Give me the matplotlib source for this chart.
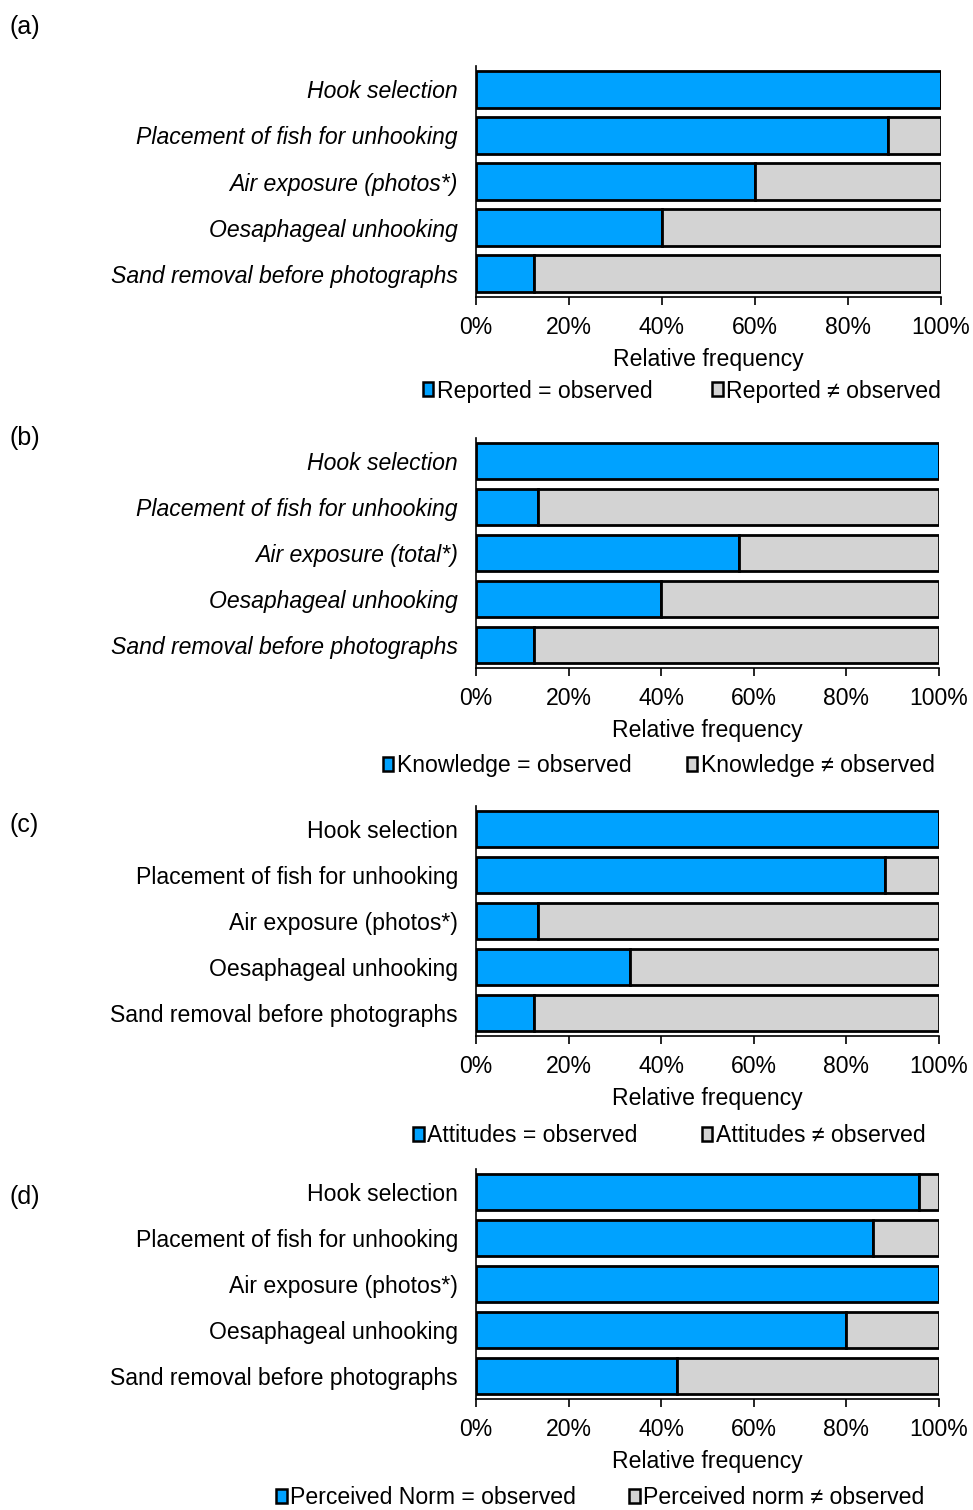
import matplotlib
matplotlib.use("Agg")
import matplotlib.pyplot as plt
from matplotlib.patches import Patch

plt.rcParams['font.family'] = ['Liberation Sans', 'DejaVu Sans']

# Practices, top to bottom
items_photos = ['Hook selection', 'Placement of fish for unhooking',
                'Air exposure (photos*)', 'Oesaphageal unhooking',
                'Sand removal before photographs']
items_total = ['Hook selection', 'Placement of fish for unhooking',
               'Air exposure (total*)', 'Oesaphageal unhooking',
               'Sand removal before photographs']

# Share (%) where the self-report matched what was observed
reported = [100, 88.7, 60, 40, 12.5]
knowledge = [100, 13.3, 56.8, 40, 12.5]
attitudes = [100, 88.3, 13.3, 33.3, 12.5]
norm = [95.7, 85.7, 100, 80, 43.5]

ticks = [0, 20, 40, 60, 80, 100]
tick_labels = ['0%', '20%', '40%', '60%', '80%', '100%']

BLUE = '#00A2FF'
GREY = '#D3D3D3'
FS = 16.6

# tag, labels, values, italic, legend text, axes rect, tag y, legend centre, column spacing
panels = [
    ('(a)', items_photos, reported, True,
     ['Reported = observed', 'Reported \u2260 observed'],
     [0.4892, 0.8033, 0.4779, 0.1530], 0.9820, (0.701, 0.741), 2.6),
    ('(b)', items_total, knowledge, True,
     ['Knowledge = observed', 'Knowledge \u2260 observed'],
     [0.4892, 0.5576, 0.4758, 0.1523], 0.7099, (0.677, 0.493), 2.4),
    ('(c)', items_photos, attitudes, False,
     ['Attitudes = observed', 'Attitudes \u2260 observed'],
     [0.4892, 0.3139, 0.4758, 0.1523], 0.4536, (0.688, 0.248), 2.8),
    ('(d)', items_photos, norm, False,
     ['Perceived Norm = observed', 'Perceived norm \u2260 observed'],
     [0.4892, 0.0735, 0.4758, 0.1523], 0.2073, (0.617, 0.008), 2.3),
]

fig = plt.figure(figsize=(9.73, 15.1), dpi=100)

for tag, items, match, italic, leg_labels, rect, tag_y, leg_pos, colsp in panels:
    ax = fig.add_axes(rect)
    rest = [100 - v for v in match]
    y = list(range(len(items)))
    ax.barh(y, match, height=0.8, color=BLUE, edgecolor='black', linewidth=2.0)
    ax.barh(y, rest, left=match, height=0.8, color=GREY, edgecolor='black', linewidth=2.0)
    ax.set_ylim(4.5, -0.5)
    ax.set_xlim(0, 100)
    ax.set_yticks(y)
    ax.set_yticklabels(items, fontsize=FS, style='italic' if italic else 'normal')
    ax.set_xticks(ticks)
    ax.set_xticklabels(tick_labels, fontsize=FS)
    ax.tick_params(axis='y', length=0, pad=13)
    ax.tick_params(axis='x', length=6, width=1.2, pad=8)
    ax.set_xlabel('Relative frequency', fontsize=FS, labelpad=6)
    for s in ['top', 'right']:
        ax.spines[s].set_visible(False)
    for s in ['left', 'bottom']:
        ax.spines[s].set_linewidth(1.2)

    fig.text(0.010, tag_y, tag, fontsize=18, ha='left', va='center')

    handles = [Patch(facecolor=BLUE, edgecolor='black', linewidth=1.8),
               Patch(facecolor=GREY, edgecolor='black', linewidth=1.8)]
    fig.legend(handles, leg_labels, loc='center', bbox_to_anchor=leg_pos,
               ncol=2, frameon=False, fontsize=FS, handlelength=0.45, handleheight=0.55,
               handletextpad=0.15, columnspacing=colsp, borderaxespad=0)

fig.savefig('out.png', dpi=100)
